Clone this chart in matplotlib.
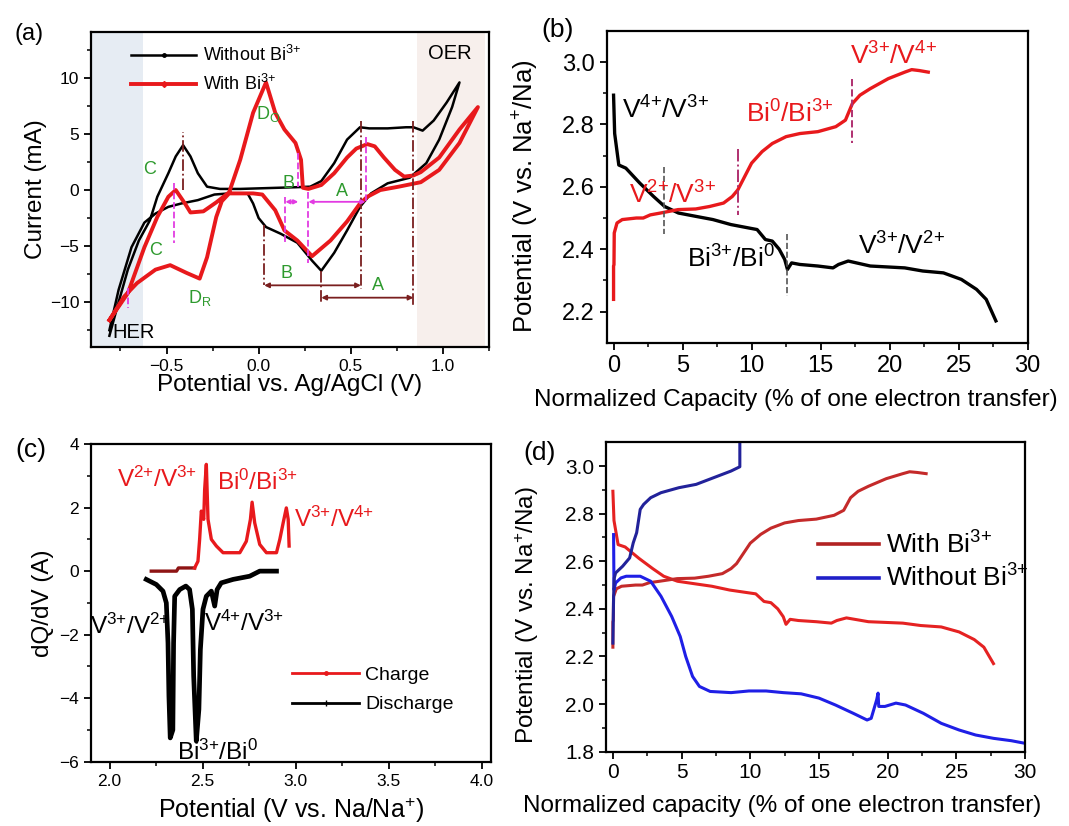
import matplotlib
matplotlib.use('Agg')
import matplotlib.pyplot as plt
from matplotlib.lines import Line2D

plt.rcParams['font.family'] = ['Liberation Sans', 'DejaVu Sans']
plt.rcParams['mathtext.fontset'] = 'custom'
plt.rcParams['mathtext.rm'] = 'Liberation Sans'
plt.rcParams['mathtext.it'] = 'Liberation Sans:italic'
plt.rcParams['axes.linewidth'] = 1.6

# ---- (a) cyclic voltammetry ----
cv_nobi_x = [-0.81, -0.76, -0.71, -0.65, -0.59, -0.55, -0.49, -0.45, -0.41, -0.37, -0.33, -0.28, -0.21,
             -0.1, 0.0, 0.1, 0.2, 0.28, 0.34, 0.41, 0.48, 0.55, 0.6, 0.7, 0.8, 0.84, 0.89, 0.95, 1.02, 1.09,
             1.05, 0.98, 0.91, 0.82, 0.70, 0.61, 0.55, 0.48, 0.41, 0.34, 0.29, 0.21, 0.12, 0.04, 0.0,
             -0.03, -0.06, -0.16, -0.24, -0.33, -0.42, -0.49, -0.56, -0.62, -0.69, -0.76, -0.81]
cv_nobi_y = [-13.0, -10.0, -7.1, -4.5, -2.7, -0.6, 1.5, 3.0, 4.0, 3.0, 1.5, 0.3, 0.1,
             0.1, 0.15, 0.2, 0.25, 0.3, 0.8, 2.4, 4.5, 5.6, 5.5, 5.5, 5.6, 5.6, 5.3, 6.2, 7.8, 9.6,
             7.4, 4.5, 2.4, 1.1, 0.6, -0.3, -1.5, -3.6, -5.6, -7.2, -6.3, -4.7, -3.9, -3.3, -2.5,
             -1.2, -0.3, -0.3, -0.4, -0.9, -1.2, -1.5, -2.1, -2.9, -5.1, -8.9, -12.5]
cv_bi_x = [-0.81, -0.71, -0.62, -0.55, -0.49, -0.45, -0.40, -0.37, -0.30, -0.23, -0.16, -0.10, -0.03,
           0.04, 0.09, 0.14, 0.20, 0.23, 0.24, 0.27, 0.34, 0.41, 0.48, 0.53, 0.59, 0.63, 0.68, 0.74,
           0.79, 0.84, 0.88, 0.98, 1.09, 1.19,
           1.09, 0.98, 0.88, 0.76, 0.66, 0.59, 0.55, 0.48, 0.39, 0.29, 0.21, 0.14, 0.09, 0.02, -0.03,
           -0.16, -0.20, -0.23, -0.28, -0.32, -0.39, -0.48, -0.56, -0.66, -0.73, -0.81]
cv_bi_y = [-11.6, -9.2, -5.1, -2.4, -0.6, 0.0, -1.2, -2.0, -1.9, -1.1, -0.2, 2.7, 6.9,
           9.6, 6.9, 5.4, 4.2, 2.7, 0.2, 0.1, 0.45, 1.5, 2.9, 3.7, 4.1, 3.9, 2.9, 1.8,
           1.2, 1.3, 1.6, 2.9, 5.4, 7.4,
           4.2, 1.8, 0.7, 0.3, 0.0, -0.6, -1.2, -2.8, -4.5, -5.9, -4.5, -3.6, -1.8, -0.4, -0.3,
           -0.3, -1.0, -2.4, -6.0, -7.9, -7.4, -6.7, -7.1, -8.3, -9.5, -11.6]

# ---- (b)/(d) galvanostatic curves, with Bi3+ ----
dis_x = [0, 0.08, 0.38, 0.89, 1.9, 2.9, 3.7, 4.7, 6.0, 7.2, 8.5, 9.8, 10.4, 11.0, 11.5, 12.0, 12.4,
         12.6, 12.9, 13.5, 14.8, 15.9, 16.3, 17.0, 17.6, 18.6, 21.1, 22.4, 23.9, 25.2, 26.3, 27.0, 27.7]
dis_y = [2.894, 2.771, 2.67, 2.66, 2.612, 2.569, 2.537, 2.516, 2.505, 2.495, 2.479, 2.468, 2.463,
         2.431, 2.426, 2.40, 2.367, 2.335, 2.356, 2.351, 2.346, 2.34, 2.351, 2.362, 2.356, 2.346,
         2.34, 2.33, 2.324, 2.303, 2.271, 2.239, 2.17]
chg_x = [0, 0, 0.03, 0.05, 0.25, 0.63, 1.65, 2.15, 2.66, 3.4, 4.68, 5.95, 6.96, 7.97, 8.6, 9.0, 9.5,
         10.0, 10.76, 11.5, 12.5, 13.5, 14.8, 16.1, 16.8, 17.3, 17.85, 18.6, 19.9, 21.1, 21.6, 22.15, 22.8]
chg_y = [2.239, 2.346, 2.35, 2.452, 2.484, 2.495, 2.5, 2.5, 2.51, 2.516, 2.527, 2.529, 2.537, 2.548,
         2.569, 2.59, 2.633, 2.676, 2.713, 2.739, 2.761, 2.771, 2.777, 2.793, 2.814, 2.867, 2.894,
         2.915, 2.947, 2.968, 2.976, 2.973, 2.968]

# ---- (d) without Bi3+ ----
nobi_chg_x = [0.0, 0.05, 0.1, 0.2, 0.71, 1.22, 1.48, 1.73, 1.99, 2.24, 2.75, 3.5, 4.8, 6.06, 7.33,
              8.6, 9.24, 9.24]
nobi_chg_y = [2.256, 2.45, 2.53, 2.551, 2.579, 2.614, 2.677, 2.72, 2.818, 2.839, 2.867, 2.888,
              2.909, 2.923, 2.951, 2.979, 2.997, 3.12]
nobi_dis_x = [0.05, 0.08, 0.2, 0.59, 0.97, 1.99, 2.75, 3.5, 4.28, 4.9, 5.3, 5.8, 6.3, 7.08, 8.6,
              9.9, 11.15, 12.4, 13.7, 15.0, 16.2, 17.5, 18.5, 18.8, 19.2, 19.3, 19.35, 19.8, 20.6,
              21.3, 22.6, 23.9, 25.2, 26.4, 27.7, 29.0, 30.0]
nobi_dis_y = [2.712, 2.48, 2.509, 2.53, 2.537, 2.537, 2.516, 2.453, 2.368, 2.284, 2.2, 2.116, 2.074,
              2.053, 2.048, 2.055, 2.055, 2.048, 2.043, 2.025, 1.996, 1.961, 1.933, 1.94, 2.018,
              2.046, 1.99, 1.99, 2.004, 1.996, 1.961, 1.919, 1.891, 1.87, 1.856, 1.846, 1.835]

# ---- (c) dQ/dV ----
dq_chg_x = [2.224, 2.36, 2.37, 2.457, 2.475, 2.484, 2.493, 2.506, 2.511, 2.52, 2.529, 2.547, 2.574,
            2.61, 2.70, 2.735, 2.757, 2.766, 2.78, 2.807, 2.843, 2.897, 2.915, 2.933, 2.95, 2.96, 2.965]
dq_chg_y = [0, 0, 0.1, 0.1, 0.31, 1.0, 1.89, 1.63, 2.57, 3.36, 1.63, 1.0, 0.79, 0.58, 0.58, 0.94,
            1.63, 2.17, 1.52, 0.84, 0.58, 0.58, 1.0, 1.52, 1.99, 1.63, 0.79]
dq_dis_x = [2.197, 2.251, 2.287, 2.305, 2.314, 2.319, 2.326, 2.34, 2.344, 2.35, 2.377, 2.41, 2.43,
            2.445, 2.452, 2.466, 2.48, 2.488, 2.502, 2.52, 2.547, 2.565, 2.578, 2.6, 2.664, 2.753,
            2.807, 2.897]
dq_dis_y = [-0.26, -0.42, -0.63, -1.0, -2.26, -3.93, -5.25, -5.0, -2.26, -0.79, -0.58, -0.47, -0.58,
            -1.2, -3.3, -5.35, -4.35, -2.47, -1.2, -0.79, -0.63, -1.1, -0.58, -0.37, -0.26, -0.16, 0, 0]

RED = '#e8191c'
DRED = '#7a1f1f'
MAG = '#e23be2'
GRN = '#2e9a2e'

fig = plt.figure(figsize=(10.69, 8.26), dpi=100)

def style(ax, size):
    ax.tick_params(direction='out', top=False, right=False, labelsize=size, width=1.3, length=5)
    ax.tick_params(which='minor', direction='out', top=False, right=False, width=1.1, length=3)

# ================= (a) =================
ax = fig.add_axes([0.0851, 0.5799, 0.3723, 0.3814])
ax.axvspan(-0.91, -0.63, color='#e6ecf3', lw=0)
ax.axvspan(0.86, 1.23, color='#f7efec', lw=0)
ax.plot(cv_nobi_x, cv_nobi_y, color='k', lw=1.8)
ax.plot(cv_bi_x, cv_bi_y, color=RED, lw=2.8)
ax.set_xlim(-0.91, 1.23)
ax.set_ylim(-14, 14.1)
ax.set_xticks([-0.5, 0.0, 0.5, 1.0])
ax.set_xticks([-0.75, -0.25, 0.25, 0.75, 1.25], minor=True)
ax.set_yticks([-10, -5, 0, 5, 10])
ax.set_yticks([-12.5, -7.5, -2.5, 2.5, 7.5, 12.5], minor=True)
style(ax, 12.5)
ax.set_xlabel('Potential vs. Ag/AgCl (V)', fontsize=17.5, labelpad=0)
ax.set_ylabel('Current (mA)', fontsize=17.5, labelpad=2)

# dash-dot guide lines (dark red) and dashed (magenta)
for xv, y0, y1 in [(-0.41, 0, 5.2), (0.03, -3.1, -8.5), (0.34, -7.2, -10.1), (0.555, 6.2, -8.8),
                   (0.84, 6.2, -10.4)]:
    ax.plot([xv, xv], [y0, y1], color=DRED, lw=1.3, ls='-.')
for xv, y0, y1 in [(-0.46, 0.6, -4.7), (-0.71, -8.7, -10.5), (0.145, -0.6, -4.7), (0.215, 3.3, 0.3),
                   (0.27, -0.2, -6.5), (0.58, 4.7, -1.2)]:
    ax.plot([xv, xv], [y0, y1], color=MAG, lw=1.3, ls='--')
arw = dict(arrowstyle='<|-|>', color=DRED, lw=1.3, mutation_scale=7, shrinkA=0, shrinkB=0)
ax.annotate('', xy=(0.03, -8.5), xytext=(0.555, -8.5), arrowprops=arw)
ax.annotate('', xy=(0.34, -9.6), xytext=(0.84, -9.6), arrowprops=arw)
arm = dict(arrowstyle='<|-|>', color=MAG, lw=1.3, mutation_scale=6, shrinkA=0, shrinkB=0)
ax.annotate('', xy=(0.27, -1.05), xytext=(0.58, -1.05), arrowprops=arm)
ax.annotate('', xy=(0.145, -1.05), xytext=(0.215, -1.05), arrowprops=arm)

for s, xv, yv in [('C', -0.59, 1.8), ('C', -0.56, -5.4), ('B', 0.16, 0.6), ('A', 0.45, -0.1),
                  ('B', 0.15, -7.4), ('A', 0.65, -8.5)]:
    ax.text(xv, yv, s, color=GRN, fontsize=13, ha='center', va='center')
ax.text(-0.32, -9.6, 'D$_\\mathrm{R}$', color=GRN, fontsize=13, ha='center', va='center')
ax.text(0.05, 6.8, 'D$_\\mathrm{O}$', color=GRN, fontsize=13, ha='center', va='center')
ax.text(-0.68, -12.7, 'HER', fontsize=14.5, ha='center', va='center')
ax.text(1.04, 12.2, 'OER', fontsize=14.5, ha='center', va='center')

hs = [Line2D([], [], color='k', lw=1.8, marker='.', ms=5),
      Line2D([], [], color=RED, lw=2.8, marker='D', ms=3)]
ax.legend(hs, ['Without Bi$^{3{+}}$', 'With Bi$^{3{+}}$'], loc='upper left', bbox_to_anchor=(0.06, 1.01),
          frameon=False, fontsize=13, handlelength=3.6, labelspacing=0.5, handletextpad=0.4)
fig.text(0.014, 0.951, '(a)', fontsize=17)

# ================= (b) =================
ax = fig.add_axes([0.5675, 0.5851, 0.3938, 0.3774])
ax.plot(dis_x, dis_y, color='k', lw=2.4)
ax.plot(chg_x, chg_y, color=RED, lw=2.4)
ax.set_xlim(-0.5, 30)
ax.set_ylim(2.1, 3.1)
ax.set_xticks([0, 5, 10, 15, 20, 25, 30])
ax.set_xticks([2.5, 7.5, 12.5, 17.5, 22.5, 27.5], minor=True)
ax.set_yticks([2.2, 2.4, 2.6, 2.8, 3.0])
ax.set_yticks([2.3, 2.5, 2.7, 2.9], minor=True)
style(ax, 17)
ax.set_xlabel('Normalized Capacity (% of one electron transfer)', fontsize=17.5)
ax.xaxis.set_label_coords(0.45, -0.15)
ax.set_ylabel('Potential (V vs. Na$^{+}$/Na)', fontsize=18.5, labelpad=1)
ax.yaxis.set_label_coords(-0.155, 0.47)
ax.plot([3.62, 3.62], [2.665, 2.45], color='#555555', lw=1.2, ls='--')
ax.plot([12.6, 12.6], [2.45, 2.25], color='#555555', lw=1.2, ls='--')
ax.plot([9.04, 9.04], [2.72, 2.51], color='#b03070', lw=1.4, ls='-.')
ax.plot([17.3, 17.3], [2.947, 2.74], color='#b03070', lw=1.4, ls='--')
ax.text(0.6, 2.845, 'V$^{4{+}}$/V$^{3{+}}$', fontsize=19, va='center')
ax.text(1.1, 2.575, 'V$^{2{+}}$/V$^{3{+}}$', fontsize=19, va='center', color=RED)
ax.text(9.6, 2.835, 'Bi$^{0}$/Bi$^{3{+}}$', fontsize=19, va='center', color=RED)
ax.text(17.1, 3.02, 'V$^{3{+}}$/V$^{4{+}}$', fontsize=19, va='center', color=RED)
ax.text(5.3, 2.37, 'Bi$^{3{+}}$/Bi$^{0}$', fontsize=19, va='center')
ax.text(17.7, 2.41, 'V$^{3{+}}$/V$^{2{+}}$', fontsize=19, va='center')
fig.text(0.506, 0.955, '(b)', fontsize=19)

# ================= (c) =================
ax = fig.add_axes([0.0851, 0.0778, 0.3742, 0.3846])
ax.plot(dq_dis_x, dq_dis_y, color='k', lw=3.4)
ax.plot(dq_chg_x[:4], dq_chg_y[:4], color='#8e1414', lw=2.4)
ax.plot(dq_chg_x[3:], dq_chg_y[3:], color=RED, lw=2.4)
ax.set_xlim(1.9, 4.05)
ax.set_ylim(-6, 4)
ax.set_xticks([2.0, 2.5, 3.0, 3.5, 4.0])
ax.set_xticks([2.25, 2.75, 3.25, 3.75], minor=True)
ax.set_yticks([-6, -4, -2, 0, 2, 4])
ax.set_yticks([-5, -3, -1, 1, 3], minor=True)
style(ax, 12.5)
ax.set_xlabel('Potential (V vs. Na/Na$^{+}$)', fontsize=18, labelpad=5)
ax.set_ylabel('dQ/dV (A)', fontsize=17.5, labelpad=4)
ax.text(2.04, 2.9, 'V$^{2{+}}$/V$^{3{+}}$', fontsize=17.5, va='center', color=RED)
ax.text(2.58, 2.8, 'Bi$^{0}$/Bi$^{3{+}}$', fontsize=17.5, va='center', color=RED)
ax.text(2.99, 1.63, 'V$^{3{+}}$/V$^{4{+}}$', fontsize=17.5, va='center', color=RED)
ax.text(1.895, -1.73, 'V$^{3{+}}$/V$^{2{+}}$', fontsize=17.5, va='center', clip_on=False)
ax.text(2.51, -1.63, 'V$^{4{+}}$/V$^{3{+}}$', fontsize=17.5, va='center')
ax.text(2.36, -5.7, 'Bi$^{3{+}}$/Bi$^{0}$', fontsize=17.5, va='center')
hs = [Line2D([], [], color=RED, lw=2.0, marker='.', ms=5),
      Line2D([], [], color='k', lw=2.0, marker='+', ms=4)]
ax.legend(hs, ['Charge', 'Discharge'], loc='upper left', bbox_to_anchor=(0.46, 0.355),
          frameon=False, fontsize=14, handlelength=3.4, labelspacing=0.6, handletextpad=0.35)
fig.text(0.014, 0.447, '(c)', fontsize=19)

# ================= (d) =================
ax = fig.add_axes([0.5669, 0.090, 0.392, 0.3746])
ax.plot(dis_x, dis_y, color='#e52222', lw=2.2)
ax.plot(chg_x, chg_y, color='#c42a2a', lw=2.2)
ax.plot(nobi_dis_x, nobi_dis_y, color='#1f1fe6', lw=2.2)
ax.plot(nobi_chg_x, nobi_chg_y, color='#22229a', lw=2.2)
ax.set_xlim(-0.5, 30)
ax.set_ylim(1.8, 3.1)
ax.set_xticks([0, 5, 10, 15, 20, 25, 30])
ax.set_xticks([2.5, 7.5, 12.5, 17.5, 22.5, 27.5], minor=True)
ax.set_yticks([1.8, 2.0, 2.2, 2.4, 2.6, 2.8, 3.0])
ax.set_yticks([1.9, 2.1, 2.3, 2.5, 2.7, 2.9], minor=True)
style(ax, 15)
ax.set_xlabel('Normalized capacity (% of one electron transfer)', fontsize=17.5)
ax.xaxis.set_label_coords(0.42, -0.14)
ax.set_ylabel('Potential (V vs. Na$^{+}$/Na)', fontsize=17.5)
ax.yaxis.set_label_coords(-0.155, 0.44)
hs = [Line2D([], [], color='#b22222', lw=2.6), Line2D([], [], color='#1f1fc8', lw=2.6)]
ax.legend(hs, ['With Bi$^{3{+}}$', 'Without Bi$^{3{+}}$'], loc='upper left', bbox_to_anchor=(0.45, 0.79),
          frameon=False, fontsize=19, handlelength=2.3, labelspacing=0.25, handletextpad=0.25)
fig.text(0.49, 0.443, '(d)', fontsize=19)

fig.savefig('out.png', dpi=100)
